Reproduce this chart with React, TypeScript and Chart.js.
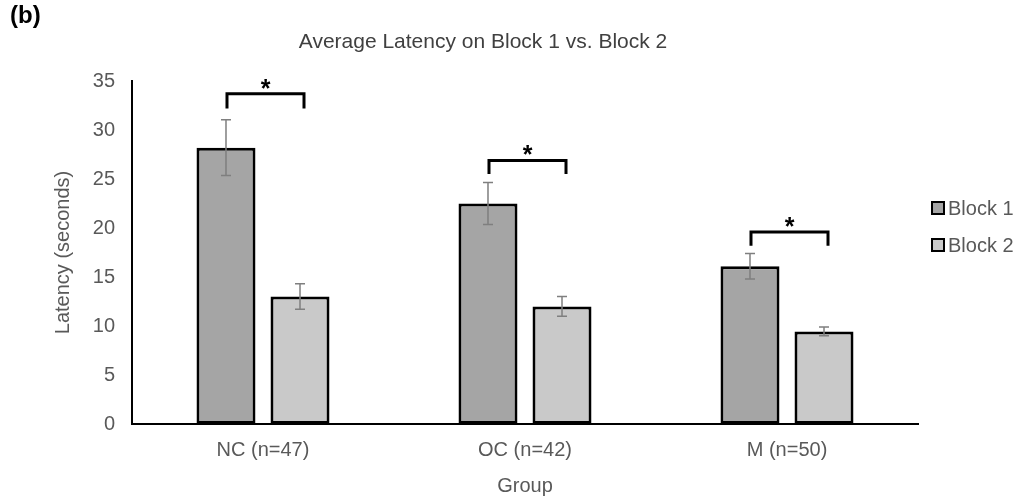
import React, { useEffect, useRef } from "react";
import { Chart, registerables } from "chart.js";

Chart.register(...registerables);

// Groups and mean latencies (seconds) with standard-error half widths
const groups = ["NC (n=47)", "OC (n=42)", "M (n=50)"];
const seriesNames = ["Block 1", "Block 2"];
const block1 = [28.2, 22.5, 16.1];
const block1Err = [2.85, 2.15, 1.3];
const block2 = [13.0, 12.0, 9.45];
const block2Err = [1.3, 1.0, 0.45];
// Significance brackets: top bar level and foot level for each group
const bracketTop = [33.7, 26.9, 19.6];
const bracketFoot = [32.2, 25.5, 18.2];
const yMax = 35;
const yStep = 5;

const FONT = "'Liberation Sans', Arial, sans-serif";
const TEXT = "#595959";
const fills = ["#a5a5a5", "#c9c9c9"];

const errorsBySeries = [block1Err, block2Err];
const valuesBySeries = [block1, block2];

const errorBarPlugin = {
  id: "errorBars",
  afterDatasetsDraw(chart: any) {
    const { ctx } = chart;
    const y = chart.scales.y;
    ctx.save();
    ctx.strokeStyle = "#7f7f7f";
    ctx.lineWidth = 1.5;
    chart.data.datasets.forEach((_: any, i: number) => {
      const meta = chart.getDatasetMeta(i);
      meta.data.forEach((bar: any, j: number) => {
        const v = valuesBySeries[i][j];
        const e = errorsBySeries[i][j];
        const hi = y.getPixelForValue(v + e);
        const lo = y.getPixelForValue(v - e);
        const x = bar.x;
        const cap = 5;
        ctx.beginPath();
        ctx.moveTo(x, hi);
        ctx.lineTo(x, lo);
        ctx.moveTo(x - cap, hi);
        ctx.lineTo(x + cap, hi);
        ctx.moveTo(x - cap, lo);
        ctx.lineTo(x + cap, lo);
        ctx.stroke();
      });
    });
    ctx.restore();
  },
};

const bracketPlugin = {
  id: "brackets",
  afterDatasetsDraw(chart: any) {
    const { ctx } = chart;
    const y = chart.scales.y;
    const m1 = chart.getDatasetMeta(0);
    const m2 = chart.getDatasetMeta(1);
    ctx.save();
    ctx.strokeStyle = "#000";
    ctx.fillStyle = "#000";
    ctx.lineWidth = 3;
    ctx.lineJoin = "miter";
    groups.forEach((_, j) => {
      const x1 = m1.data[j].x + 1;
      const x2 = m2.data[j].x + 4;
      const top = y.getPixelForValue(bracketTop[j]);
      const foot = y.getPixelForValue(bracketFoot[j]);
      ctx.beginPath();
      ctx.moveTo(x1, foot);
      ctx.lineTo(x1, top);
      ctx.lineTo(x2, top);
      ctx.lineTo(x2, foot);
      ctx.stroke();
      ctx.font = `bold 25px ${FONT}`;
      ctx.textAlign = "center";
      ctx.textBaseline = "alphabetic";
      ctx.fillText("*", (x1 + x2) / 2, top + 3);
    });
    ctx.restore();
  },
};

const decorPlugin = {
  id: "decor",
  afterDraw(chart: any) {
    const { ctx, chartArea } = chart;
    ctx.save();
    // panel label
    ctx.fillStyle = "#000";
    ctx.font = `bold 24px ${FONT}`;
    ctx.textAlign = "left";
    ctx.textBaseline = "middle";
    ctx.fillText("(b)", 10, 16);
    // chart title
    ctx.fillStyle = "#404040";
    ctx.font = `21px ${FONT}`;
    ctx.textAlign = "center";
    ctx.fillText("Average Latency on Block 1 vs. Block 2", 483, 42);
    // legend
    const lx = chartArea.right + 14;
    const rows = [chartArea.top + 127, chartArea.top + 164];
    chart.data.datasets.forEach((ds: any, i: number) => {
      const cy = rows[i];
      ctx.fillStyle = ds.backgroundColor;
      ctx.fillRect(lx, cy - 6, 12, 12);
      ctx.strokeStyle = "#000";
      ctx.lineWidth = 2;
      ctx.strokeRect(lx, cy - 6, 12, 12);
      ctx.fillStyle = TEXT;
      ctx.font = `20px ${FONT}`;
      ctx.textAlign = "left";
      ctx.textBaseline = "middle";
      ctx.fillText(ds.label, lx + 16, cy + 1);
    });
    ctx.restore();
  },
};

export default function App() {
  const ref = useRef<HTMLCanvasElement>(null);

  useEffect(() => {
    if (!ref.current) return;
    const chart = new Chart(ref.current, {
      type: "bar",
      data: {
        labels: groups,
        datasets: [
          {
            label: seriesNames[0],
            data: block1,
            backgroundColor: fills[0],
            borderColor: "#000",
            borderWidth: 3,
            borderSkipped: false,
            categoryPercentage: 0.565,
            barPercentage: 0.797,
          },
          {
            label: seriesNames[1],
            data: block2,
            backgroundColor: fills[1],
            borderColor: "#000",
            borderWidth: 3,
            borderSkipped: false,
            categoryPercentage: 0.565,
            barPercentage: 0.797,
          },
        ],
      },
      options: {
        responsive: false,
        animation: false,
        events: [],
        layout: { padding: { left: 0, top: 81, right: 100, bottom: 0 } },
        plugins: {
          legend: { display: false },
          title: { display: false },
          tooltip: { enabled: false },
        },
        scales: {
          x: {
            grid: { display: false, drawTicks: false },
            border: { display: true, color: "#000", width: 2 },
            ticks: { color: TEXT, font: { family: FONT, size: 20 }, padding: 14 },
            title: {
              display: true,
              text: "Group",
              color: TEXT,
              font: { family: FONT, size: 20 },
              padding: { top: 0, bottom: 2 },
            },
            afterFit(scale: any) {
              scale.height = 76;
            },
          },
          y: {
            min: 0,
            max: yMax,
            grid: { display: false, drawTicks: false },
            border: { display: true, color: "#000", width: 2 },
            ticks: {
              stepSize: yStep,
              color: TEXT,
              font: { family: FONT, size: 20 },
              padding: 17,
            },
            title: {
              display: true,
              text: "Latency (seconds)",
              color: TEXT,
              font: { family: FONT, size: 20 },
              padding: { top: 51, bottom: 0 },
            },
            afterFit(scale: any) {
              scale.width = 132;
            },
          },
        },
      },
      plugins: [errorBarPlugin, bracketPlugin, decorPlugin],
    });
    return () => chart.destroy();
  }, []);

  return (
    <div style={{ position: "fixed", left: 0, top: 0, width: 1018, height: 500, background: "#fff" }}>
      <canvas ref={ref} width={1018} height={500} style={{ display: "block" }} />
    </div>
  );
}
